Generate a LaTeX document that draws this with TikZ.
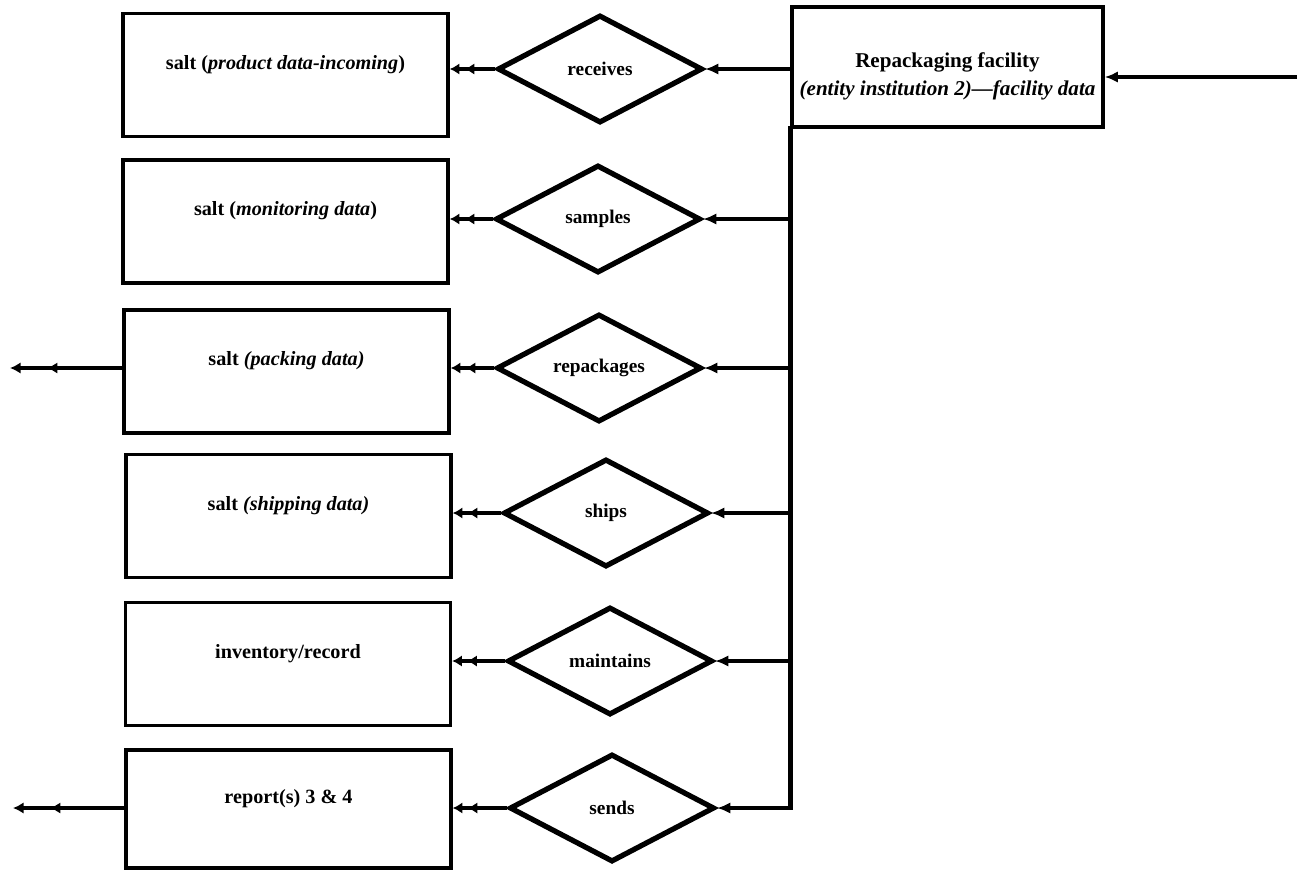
\documentclass[tikz,border=0pt]{standalone}
\usepackage{fontspec}
\setmainfont{Liberation Serif}
\usetikzlibrary{positioning,arrows.meta,shapes.geometric}

\begin{document}
\begin{tikzpicture}[x=0.02cm,y=-0.02cm,
  font=\bfseries,
  box/.style={draw=black,line width=2pt,minimum width=6.5cm,minimum height=2.46cm,inner sep=0pt,font=\bfseries\fontsize{11.5}{14}\selectfont,text height=8pt,text depth=14.6pt},
  rel/.style={diamond,draw=black,line width=3pt,aspect=1.9,minimum width=4.1cm,minimum height=2.16cm,inner sep=0pt,font=\bfseries\fontsize{11}{13}\selectfont},
  tip/.style={-{Latex[length=7.5pt,width=6.5pt]},line width=2pt},
  many/.style={-{Latex[length=5.5pt,width=6.5pt,sep=3pt]Latex[length=5.5pt,width=6.5pt]},line width=2pt},
  outarr/.style={-{Latex[length=6pt,width=6.5pt,sep=15pt]Latex[length=6pt,width=6.5pt]},line width=2pt},
  busline/.style={line width=2.8pt,line cap=rect},
  incoming/.style={-{Latex[length=7.5pt,width=6.5pt]},line width=1.8pt}]
  \useasboundingbox (0,0) rectangle (1311,870);

  % entity and its data boxes
  \node[box,minimum width=6.22cm,minimum height=2.4cm,align=center,font=\bfseries\fontsize{12}{14.5}\selectfont,text height=35pt,text depth=2pt] (fac) at (947.5,67) {Repackaging facility\\[1.5pt]\textit{(entity institution 2)---facility data}};
  \node[box] (b1) at (285.5,75) {salt (\textit{product data-incoming})};
  \node[box] (b2) at (285.5,221.5) {salt (\textit{monitoring data})};
  \node[box] (b3) at (286.5,371.5) {salt \textit{(packing data)}};
  \node[box] (b4) at (288.5,516) {salt \textit{(shipping data)}};
  \node[box] (b5) at (288,664) {inventory/record};
  \node[box,minimum height=2.36cm] (b6) at (288.5,809) {report(s) 3 \& 4};

  % relationships
  \node[rel] (d1) at (600,69) {receives};
  \node[rel] (d2) at (598,219) {samples};
  \node[rel] (d3) at (599,368) {repackages};
  \node[rel] (d4) at (606,513) {ships};
  \node[rel] (d5) at (610,661) {maintains};
  \node[rel] (d6) at (612,808) {sends};

  \coordinate (src) at (1297,77);
  \coordinate (bus) at (fac.south west);
  \coordinate (exit3) at (10,368);
  \coordinate (exit6) at (13,808);

  \draw[incoming] (src) -- (src -| fac.east);
  \draw[tip] (fac.west |- d1.east) -- (d1.east);
  \draw[busline] (bus) -- (bus |- d6.east);
  \draw[tip] (bus |- d2.east) -- (d2.east);
  \draw[tip] (bus |- d3.east) -- (d3.east);
  \draw[tip] (bus |- d4.east) -- (d4.east);
  \draw[tip] (bus |- d5.east) -- (d5.east);
  \draw[tip] (bus |- d6.east) -- (d6.east);

  \draw[many] (d1.west) -- (d1.west -| b1.east);
  \draw[many] (d2.west) -- (d2.west -| b2.east);
  \draw[many] (d3.west) -- (d3.west -| b3.east);
  \draw[many] (d4.west) -- (d4.west -| b4.east);
  \draw[many] (d5.west) -- (d5.west -| b5.east);
  \draw[many] (d6.west) -- (d6.west -| b6.east);

  \draw[outarr] (b3.west |- exit3) -- (exit3);
  \draw[outarr] (b6.west |- exit6) -- (exit6);
\end{tikzpicture}
\end{document}
